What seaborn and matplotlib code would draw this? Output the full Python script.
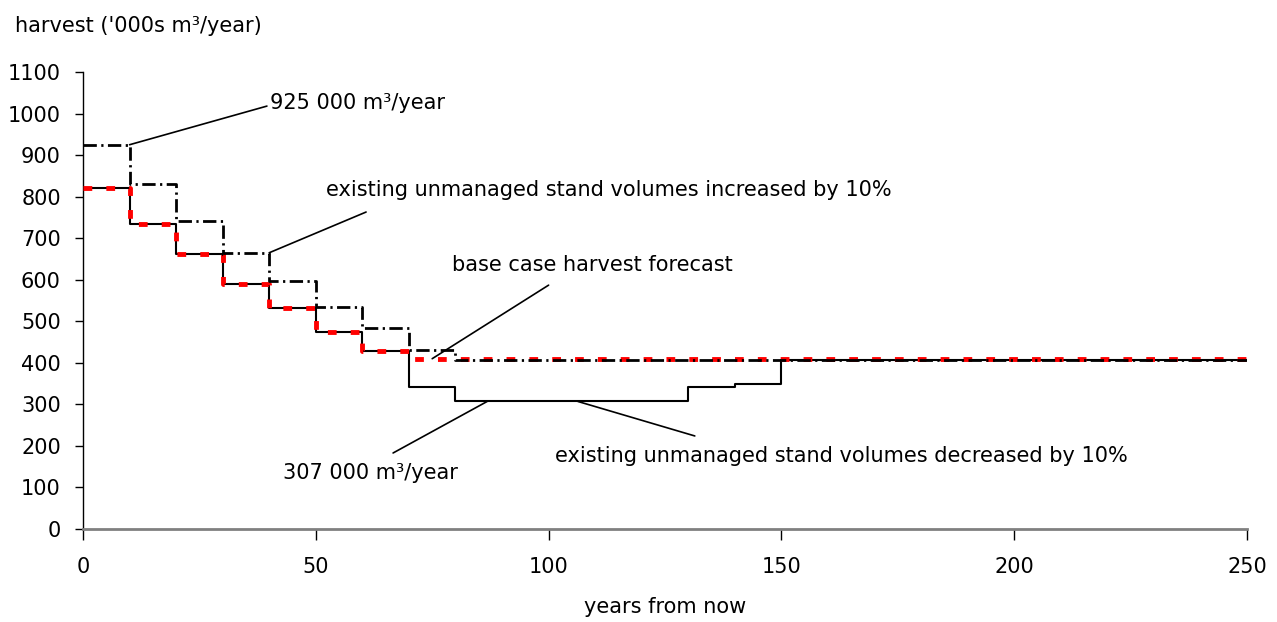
import matplotlib
matplotlib.use("Agg")
import matplotlib.pyplot as plt
import pandas as pd
import seaborn as sns

# step levels ('000s m3/year), each value holds from its year until the next
BASE_YEARS = [0, 10, 20, 30, 40, 50, 60, 70, 250]
BASE_VALUES = [820, 735, 662, 590, 533, 475, 428, 410, 410]

HIGH_YEARS = [0, 10, 20, 30, 40, 50, 60, 70, 80, 250]
HIGH_VALUES = [925, 830, 742, 665, 598, 535, 483, 432, 408, 408]

LOW_YEARS = [0, 10, 20, 30, 40, 50, 60, 70, 80, 130, 140, 150, 250]
LOW_VALUES = [820, 735, 662, 590, 533, 475, 428, 342, 307, 342, 350, 408, 408]

X_TICKS = [0, 50, 100, 150, 200, 250]
Y_TICKS = list(range(0, 1101, 100))

# (label, point on curve, end of leader line, text position)
NOTES = [
    ("925 000 m³/year", (10, 925), (39.5, 1018), (40.2, 1025)),
    ("existing unmanaged stand volumes increased by 10%", (40, 665), (60.8, 763), (52.2, 816)),
    ("base case harvest forecast", (75, 410), (100, 587), (79.3, 635)),
    ("307 000 m³/year", (86.8, 307), (66.6, 183), (43, 135)),
    ("existing unmanaged stand volumes decreased by 10%", (106.3, 307), (131.4, 224), (101.4, 176)),
]

sns.set_style("ticks")
plt.rcParams["font.family"] = ["DejaVu Sans"]
plt.rcParams["font.size"] = 15
plt.rcParams["text.color"] = "black"
plt.rcParams["xtick.labelcolor"] = "black"
plt.rcParams["ytick.labelcolor"] = "black"

base = pd.DataFrame({"year": BASE_YEARS, "harvest": BASE_VALUES})
high = pd.DataFrame({"year": HIGH_YEARS, "harvest": HIGH_VALUES})
low = pd.DataFrame({"year": LOW_YEARS, "harvest": LOW_VALUES})

fig = plt.figure(figsize=(12.77, 6.22), dpi=100)
ax = fig.add_axes([0.065, 0.1495, 0.9115, 0.7347])

sns.lineplot(data=low, x="year", y="harvest", ax=ax, drawstyle="steps-post",
             color="black", lw=1.5, zorder=2)
sns.lineplot(data=base, x="year", y="harvest", ax=ax, drawstyle="steps-post",
             color="#ff0000", lw=3.5, linestyle=(0, (1.8, 2.9)), zorder=3)
sns.lineplot(data=high, x="year", y="harvest", ax=ax, drawstyle="steps-post",
             color="black", lw=2, linestyle=(0, (4.8, 1.6, 0.8, 1.6)), zorder=4)

for label, point, end, text_pos in NOTES:
    ax.annotate("", xy=point, xytext=end,
                arrowprops=dict(arrowstyle="-", lw=1.2, color="black",
                                shrinkA=0, shrinkB=0))
    ax.text(text_pos[0], text_pos[1], label, ha="left", va="center", fontsize=15)

ax.set_xlim(0, 250)
ax.set_ylim(0, 1100)
ax.set_xticks(X_TICKS)
ax.set_yticks(Y_TICKS)
ax.set_xlabel("")
ax.set_ylabel("")
ax.tick_params(axis="y", length=6, width=1, pad=10, labelsize=15, color="black")
ax.tick_params(axis="x", length=8, width=1, pad=12, labelsize=15, color="black")

sns.despine(ax=ax)
ax.spines["left"].set_color("black")
ax.spines["left"].set_linewidth(1)
ax.spines["bottom"].set_color("#808080")
ax.spines["bottom"].set_linewidth(2)

fig.text(15 / 1277, 1 - 26 / 622, "harvest ('000s m³/year)", ha="left", va="center", fontsize=15)
fig.text(665 / 1277, 1 - 607 / 622, "years from now", ha="center", va="center", fontsize=15)

fig.savefig("out.png", dpi=100)
